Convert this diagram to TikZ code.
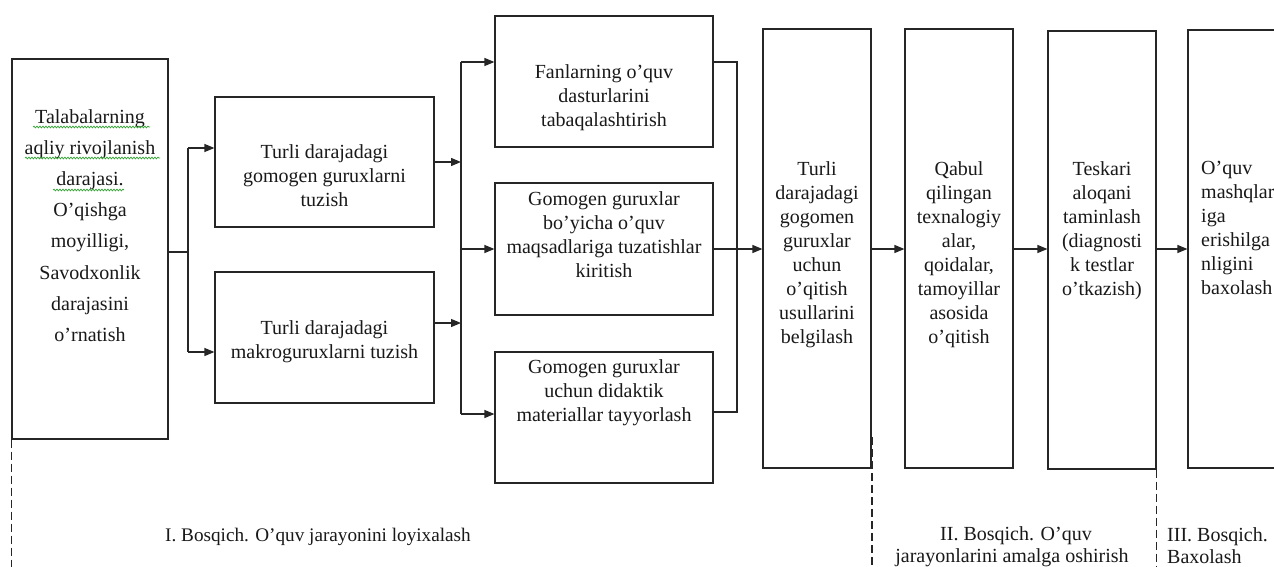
\documentclass[tikz,border=0pt]{standalone}
\usepackage{fontspec}
\setmainfont{Liberation Serif}
\usetikzlibrary{arrows.meta,decorations.pathmorphing}
\begin{document}
\begin{tikzpicture}[x=1pt,y=-1pt,
  box/.style={draw=black!85, line width=1.2pt, rectangle, inner sep=0pt},
  txt/.style={inner sep=0pt, anchor=north, align=center, text=black!90, font=\fontsize{20}{24}\selectfont},
  lbl/.style={inner sep=0pt, text=black!90, font=\fontsize{20}{24}\selectfont},
  line/.style={draw=black!85, line width=1.2pt},
  arr/.style={line, -{Triangle[length=10pt,width=8pt]}},
  dashline/.style={draw=black!85, line width=1.1pt, dash pattern=on 8pt off 4pt},
  wavy/.style={draw=green!55!black!80, line width=0.7pt, decorate, decoration={snake, amplitude=0.9pt, segment length=3pt}}]
\useasboundingbox (0,0) rectangle (1274,567);
\clip (0,0) rectangle (1274,567);
\fill[white] (0,0) rectangle (1274,567);

% boxes
\node[box, minimum width=156pt, minimum height=380pt] (a) at (90,249) {};
\node[box, minimum width=219pt, minimum height=130pt] (b1) at (324.5,162) {};
\node[box, minimum width=219pt, minimum height=131pt] (b2) at (324.5,337.5) {};
\node[box, minimum width=218pt, minimum height=131pt] (c1) at (604,81.5) {};
\node[box, minimum width=218pt, minimum height=132pt] (c2) at (604,249) {};
\node[box, minimum width=218pt, minimum height=131pt] (c3) at (604,417.5) {};
\node[box, minimum width=108pt, minimum height=439pt] (d) at (817,248.5) {};
\node[box, minimum width=108pt, minimum height=439pt] (e) at (959,248.5) {};
\node[box, minimum width=108pt, minimum height=438pt] (f) at (1102,250) {};
\node[box, minimum width=112pt, minimum height=438pt] (g) at (1244,249) {};

% texts
\node[txt, font=\fontsize{20}{31.2}\selectfont] (ta) at (90,109) {Talabalarning\\aqliy rivojlanish\\darajasi.\\O’qishga\\moyilligi,\\Savodxonlik\\darajasini\\o’rnatish};
\node[txt] (tb1) at (324.5,144) {Turli darajadagi\\gomogen guruxlarni\\tuzish};
\node[txt] (tb2) at (324.5,320) {Turli darajadagi\\makroguruxlarni tuzish};
\node[txt] (tc1) at (604,64) {Fanlarning o’quv\\dasturlarini\\tabaqalashtirish};
\node[txt] (tc2) at (604,191) {Gomogen guruxlar\\bo’yicha o’quv\\maqsadlariga tuzatishlar\\kiritish};
\node[txt] (tc3) at (604,359) {Gomogen guruxlar\\uchun didaktik\\materiallar tayyorlash};
\node[txt] (td) at (817,161) {Turli\\darajadagi\\gogomen\\guruxlar\\uchun\\o’qitish\\usullarini\\belgilash};
\node[txt] (te) at (959,161) {Qabul\\qilingan\\texnalogiy\\alar,\\qoidalar,\\tamoyillar\\asosida\\o’qitish};
\node[txt] (tf) at (1102,161) {Teskari\\aloqani\\taminlash\\(diagnosti\\k testlar\\o’tkazish)};
\node[txt, anchor=north west, align=left] (tg) at (1201,161) {O’quv\\mashqlar\\iga\\erishilga\\nligini\\baxolash};

% spell-check underlines
\draw[wavy] (33,127) -- (150,127);
\draw[wavy] (25,158) -- (160,158);
\draw[wavy] (53,190) -- (124,190);

% connectors left
\coordinate (j1) at (188,252);
\coordinate (j1t) at (188,148);
\coordinate (j1b) at (188,352);
\draw[line] (a.east |- j1) -- (j1);
\draw[line] (j1t) -- (j1b);
\draw[arr] (j1t) -- (b1.west |- j1t);
\draw[arr] (j1b) -- (b2.west |- j1b);

% bus
\coordinate (k1t) at (461,62);
\coordinate (k1b) at (461,414);
\coordinate (b2o) at (434,323);
\draw[arr] (b1.east) -- (b1.east -| k1t);
\draw[arr] (b2o) -- (b2o -| k1t);
\draw[line] (k1t) -- (k1b);
\draw[arr] (k1t) -- (c1.west |- k1t);
\draw[arr] (c2.west -| k1t) -- (c2.west);
\draw[arr] (k1b) -- (c3.west |- k1b);

% right bus
\coordinate (m1t) at (737,62);
\coordinate (m1b) at (737,412);
\draw[line] (c1.east |- m1t) -- (m1t) -- (m1b) -- (c3.east |- m1b);
\draw[arr] (c2.east) -- (c2.east -| d.west);
\draw[arr] (c2.east -| d.east) -- (c2.east -| e.west);
\draw[arr] (c2.east -| e.east) -- (c2.east -| f.west);
\draw[arr] (c2.east -| f.east) -- (c2.east -| g.west);

% dashed stage dividers
\coordinate (bot) at (0,567);
\coordinate (dd) at (872,437);
\draw[dashline] (a.south west) -- (a.south west |- bot);
\draw[dashline] (dd) -- (dd |- bot);
\draw[dashline] (f.south east) -- (f.south east |- bot);

% stage labels
\node[lbl, anchor=base, font=\fontsize{19.2}{24}\selectfont] (l1) at (318,541.7) {I. Bosqich. O’quv jarayonini loyixalash};
\node[lbl, anchor=base] (l2) at (1016,540.7) {II. Bosqich. O’quv};
\node[lbl, anchor=base] (l2b) at (1012,562.7) {jarayonlarini amalga oshirish};
\node[lbl, anchor=base west] (l3) at (1167,541) {III. Bosqich.};
\node[lbl, anchor=base west] (l3b) at (1167,563) {Baxolash};
\end{tikzpicture}
\end{document}
